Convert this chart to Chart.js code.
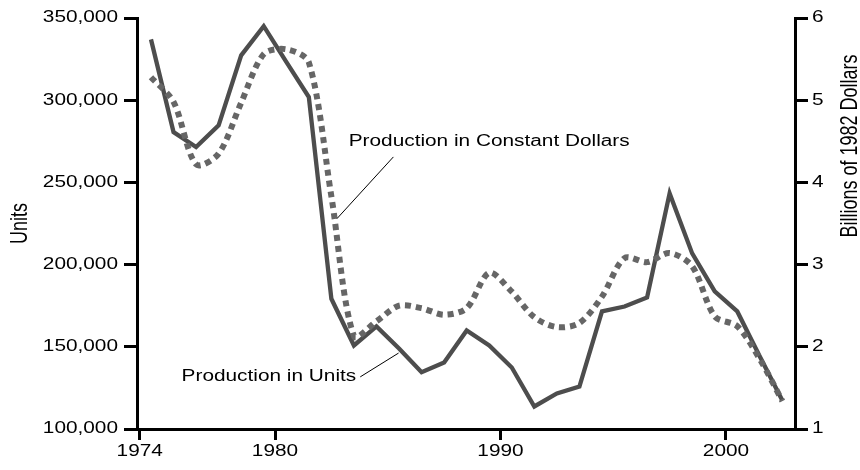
<!DOCTYPE html>
<html>
<head>
<meta charset="utf-8">
<script src="https://cdn.jsdelivr.net/npm/chart.js@4"></script>
<style>
  body { margin: 0; background: #fff; }
  #chart { display: block; }
</style>
</head>
<body>
<canvas id="chart" width="860" height="470"></canvas>
<script>
// annual values, 1974-2002
const years = [1974, 1975, 1976, 1977, 1978, 1979, 1980, 1981, 1982, 1983,
    1984, 1985, 1986, 1987, 1988, 1989, 1990, 1991, 1992, 1993,
    1994, 1995, 1996, 1997, 1998, 1999, 2000, 2001, 2002]

const units = [337000, 280600, 271500, 284700, 327300, 345000, 323300, 301900, 179200, 150800,
    162400, 149000, 134500, 140400, 159900, 150800, 137400, 113700, 121600, 125800,
    171500, 174500, 180000, 243300, 206800, 183700, 171500, 144100, 117300]

// billions of 1982 dollars
const dollars = [5.28, 4.98, 4.22, 4.35, 4.97, 5.56, 5.62, 5.46, 3.83, 2.13,
    2.31, 2.50, 2.47, 2.39, 2.47, 2.90, 2.67, 2.36, 2.24, 2.29,
    2.61, 3.08, 3.03, 3.14, 2.98, 2.37, 2.25, 1.85, 1.34]

const xTicks = [1974, 1980, 1990, 2000]
const unitTicks = [100000, 150000, 200000, 250000, 300000, 350000]
const dollarTicks = [1, 2, 3, 4, 5, 6]

const unitsTitle = 'Units'
const dollarsTitle = 'Billions of 1982 Dollars'
const unitsLabel = 'Production in Units'
const dollarsLabel = 'Production in Constant Dollars'

// the source type is set wide, so every text gets stretched sideways
const STRETCH = 1.3
const FONT = '16px "Liberation Sans", Arial, sans-serif'
const TITLE_FONT = '18px "Liberation Sans", Arial, sans-serif'

const drawText = (ctx, text, x, y, align, angle) => {
    ctx.save()
    ctx.translate(x, y)
    ctx.scale(STRETCH, 1)
    if (angle) ctx.rotate(angle)
    ctx.textAlign = align
    ctx.textBaseline = 'middle'
    ctx.fillText(text, 0, 0)
    ctx.restore()
}

const textPlugin = {
    id: 'stretchedText',
    afterDraw(chart) {
        const ctx = chart.ctx,
            x = chart.scales.x,
            y = chart.scales.y,
            y1 = chart.scales.y1,
            area = chart.chartArea

        ctx.save()
        ctx.fillStyle = '#000'
        ctx.font = FONT

        y.ticks.forEach(t => {
            drawText(ctx, t.value.toLocaleString('en-US'), area.left - 19, y.getPixelForValue(t.value), 'right')
        })
        y1.ticks.forEach(t => {
            drawText(ctx, String(t.value), area.right + 17, y1.getPixelForValue(t.value), 'left')
        })
        x.ticks.forEach(t => {
            drawText(ctx, String(t.value), x.getPixelForValue(t.value), area.bottom + 23, 'center')
        })

        // callouts, anchored in data space
        drawText(ctx, dollarsLabel, x.getPixelForValue(1983.27), y1.getPixelForValue(4.5), 'left')
        drawText(ctx, unitsLabel, x.getPixelForValue(1983.6), y.getPixelForValue(131600), 'right')

        ctx.strokeStyle = '#000'
        ctx.lineWidth = 1
        ctx.beginPath()
        ctx.moveTo(x.getPixelForValue(1982.75), y1.getPixelForValue(3.56))
        ctx.lineTo(x.getPixelForValue(1985.25), y1.getPixelForValue(4.31))
        ctx.moveTo(x.getPixelForValue(1983.78), y.getPixelForValue(131700))
        ctx.lineTo(x.getPixelForValue(1985.48), y.getPixelForValue(146200))
        ctx.stroke()

        ctx.font = TITLE_FONT
        drawText(ctx, unitsTitle, 21, (area.top + area.bottom) / 2, 'center', -Math.PI / 2)
        drawText(ctx, dollarsTitle, 851, 146, 'center', -Math.PI / 2)
        ctx.restore()
    }
}

const setTicks = values => scale => {
    scale.ticks = values.map(v => ({ value: v }))
}

const axisGrid = len => ({
    drawOnChartArea: false,
    drawTicks: true,
    tickLength: len,
    lineWidth: 3,
    color: '#000'
})

const axisBorder = { display: true, width: 3, color: '#000' }

new Chart(document.getElementById('chart'), {
    type: 'line',
    data: {
        datasets: [{
            label: dollarsLabel,
            // values plotted at mid-year
            data: years.map((yr, i) => ({ x: yr + 0.5, y: dollars[i] })),
            yAxisID: 'y1',
            borderColor: '#666666',
            borderWidth: 6,
            borderDash: [6, 5],
            borderCapStyle: 'butt',
            tension: 0.3,
            pointRadius: 0,
            fill: false
        }, {
            label: unitsLabel,
            data: years.map((yr, i) => ({ x: yr + 0.5, y: units[i] })),
            yAxisID: 'y',
            borderColor: '#4d4d4d',
            borderWidth: 4.3,
            borderJoinStyle: 'miter',
            tension: 0,
            pointRadius: 0,
            fill: false
        }]
    },
    options: {
        responsive: false,
        animation: false,
        devicePixelRatio: 1,
        layout: {
            padding: { left: 124, right: 52, top: 18, bottom: 30 }
        },
        plugins: {
            legend: { display: false },
            tooltip: { enabled: false }
        },
        scales: {
            x: {
                type: 'linear',
                min: 1973.88,
                max: 2003.06,
                afterBuildTicks: setTicks(xTicks),
                ticks: { display: false },
                grid: axisGrid(11),
                border: axisBorder
            },
            y: {
                position: 'left',
                min: 100000,
                max: 350000,
                afterBuildTicks: setTicks(unitTicks),
                ticks: { display: false },
                grid: axisGrid(13),
                border: axisBorder
            },
            y1: {
                position: 'right',
                min: 1,
                max: 6,
                afterBuildTicks: setTicks(dollarTicks),
                ticks: { display: false },
                grid: axisGrid(13),
                border: axisBorder
            }
        }
    },
    plugins: [textPlugin]
})
</script>
</body>
</html>
